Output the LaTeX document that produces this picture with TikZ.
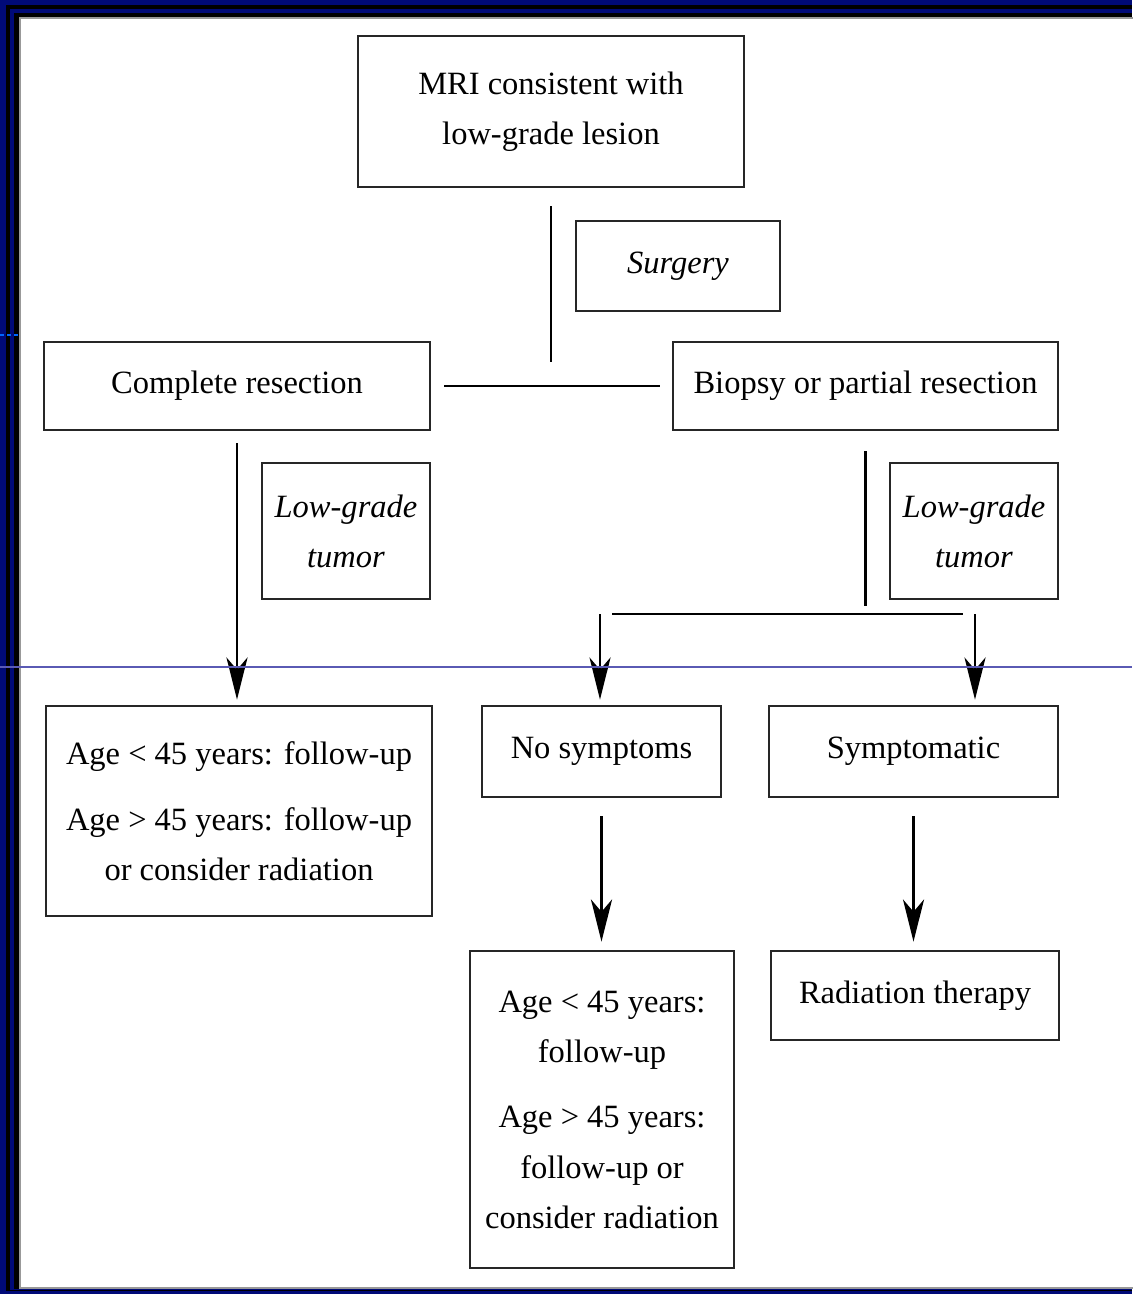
\documentclass[tikz,border=0pt]{standalone}
\usepackage{fontspec}
\setmainfont{Liberation Serif}
\usepackage{xcolor}
\usetikzlibrary{positioning, arrows.meta}
\definecolor{framenavy}{HTML}{000A78}
\definecolor{guideblue}{HTML}{5A5AB4}

\begin{document}
\begin{tikzpicture}[
  x=0.02cm, y=-0.02cm,
  box/.style={draw=black!85, line width=1.6pt, fill=white, align=center, inner sep=0pt,
    font=\fontsize{18.5}{28.5}\selectfont},
  tag/.style={box, font=\fontsize{18.5}{28.5}\selectfont\itshape},
  link/.style={draw=black, line width=1.5pt},
  flow/.style={link, -{Stealth[length=24pt, width=12pt, inset=7pt]}}
]
  % frame round the slide
  \useasboundingbox (0,0) rectangle (1132,1294);
  \fill[framenavy] (0,0) rectangle (1132,1294);
  \fill[black] (6,5) rectangle (1132,1291);
  \fill[framenavy] (10,9) rectangle (1132,1290);
  \fill[black] (14,13) rectangle (1132,1289);
  \filldraw[fill=white, draw=black!40, line width=0.6pt] (20,18) rectangle (1134,1288);

  % top: MRI and surgery
  \node[box, minimum width=7.72cm, minimum height=3.02cm] (mri) at (551,111.5)
    {MRI consistent with\\low-grade lesion};
  \node[tag, minimum width=4.08cm, minimum height=1.8cm] (surg) at (678,266) {Surgery};
  \node[box, minimum width=7.72cm, minimum height=1.76cm] (comp) at (237,386) {Complete resection};
  \node[box, minimum width=7.7cm, minimum height=1.76cm] (biop) at (865.5,386) {Biopsy or partial resection};
  \coordinate (split) at (551,362);
  \draw[link, shorten <=0.36cm] (mri.south) -- (split);
  \draw[link, shorten <=0.26cm, shorten >=0.24cm] (comp.east) -- (biop.west);

  % left branch
  \node[tag, minimum width=3.36cm, minimum height=2.72cm] (lgl) at (346,531) {Low-grade\\tumor};
  \node[box, minimum width=7.72cm, minimum height=4.2cm] (agel) at (239,811)
    {Age < 45 years: follow-up\\[9pt]Age > 45 years: follow-up\\or consider radiation};
  \draw[flow, shorten <=0.24cm, shorten >=0.1cm] (comp.south) -- (comp.south |- agel.north);

  % right branch
  \node[tag, minimum width=3.36cm, minimum height=2.72cm] (lgr) at (974,531) {Low-grade\\tumor};
  \node[box, minimum width=4.78cm, minimum height=1.82cm] (nosym) at (601.5,751.5) {No symptoms};
  \node[box, minimum width=5.78cm, minimum height=1.82cm] (sym) at (913.5,751.5) {Symptomatic};
  \coordinate (forkl) at (612,614);
  \coordinate (forkr) at (963,614);
  \coordinate (downl) at (600,614);
  \coordinate (downr) at (975,614);
  \draw[link, shorten <=0.4cm, shorten >=0.16cm] (biop.south) -- (biop.south |- forkr);
  \draw[link] (forkl) -- (forkr);
  \draw[flow, shorten >=0.1cm] (downl) -- (downl |- nosym.north);
  \draw[flow, shorten >=0.1cm] (downr) -- (downr |- sym.north);

  \node[box, minimum width=5.28cm, minimum height=6.34cm] (agem) at (602,1109.5)
    {Age < 45 years:\\follow-up\\[9pt]Age > 45 years:\\follow-up or\\consider radiation};
  \node[box, minimum width=5.76cm, minimum height=1.78cm] (rad) at (915,995.5) {Radiation therapy};
  \draw[flow, shorten <=0.36cm, shorten >=0.16cm] (nosym.south) -- (nosym.south |- agem.north);
  \draw[flow, shorten <=0.36cm, shorten >=0.16cm] (sym.south) -- (sym.south |- rad.north);

  % stray guide lines of the slide
  \coordinate (guidel) at (0,667);
  \coordinate (guider) at (1132,667);
  \draw[guideblue, line width=0.8pt] (guidel) -- (guider);
  \coordinate (markl) at (0,335);
  \coordinate (markr) at (18,335);
  \draw[blue!60!cyan, line width=1pt, dash pattern=on 2pt off 2pt] (markl) -- (markr);
\end{tikzpicture}
\end{document}
